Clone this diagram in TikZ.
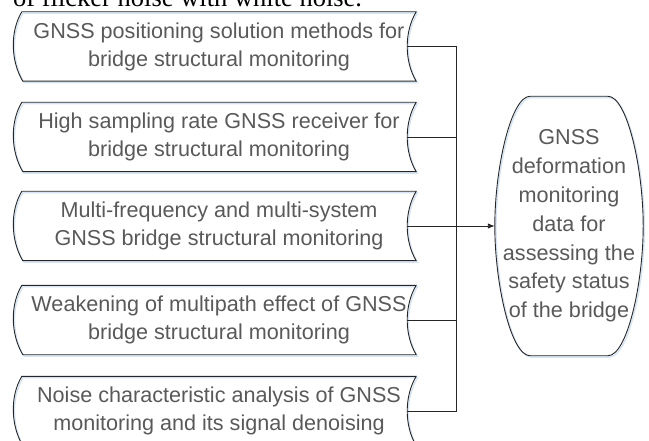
\documentclass[tikz,border=0pt]{standalone}
\usepackage{fontspec}
\setmainfont{Liberation Sans}
\newfontfamily\bodyserif{Liberation Serif}
\usetikzlibrary{arrows.meta}
\definecolor{labelgray}{RGB}{89,89,89}
\definecolor{glow}{RGB}{214,228,244}
\tikzset{
  topic/.style={minimum width=394bp, minimum height=69bp, inner sep=0pt, align=center,
    text=labelgray, font=\fontsize{21.6bp}{28bp}\selectfont},
  goal/.style={minimum width=148bp, minimum height=259bp, inner sep=0pt, align=center,
    text=labelgray, font=\fontsize{21.6bp}{28.8bp}\selectfont},
  outline/.style={draw=black!85, line width=0.9bp},
  halo/.style={draw=glow, line width=1.4bp, transform canvas={shift={(1.2bp,-1.4bp)}}},
  link/.style={draw=black!85, line width=0.9bp},
}
\begin{document}
\begin{tikzpicture}[x=1bp, y=-1bp]
\useasboundingbox (0,0) rectangle (649,441);
\clip (0,0) rectangle (649,441);

% trailing line of the preceding paragraph
\node[anchor=base west, inner sep=0pt, font=\bodyserif\fontsize{26.5bp}{30bp}\selectfont] (lead) at (13,6.5) {of flicker noise with white noise.};

% research topics
\node[topic] (b1) at (219,46.5) {GNSS positioning solution methods for\\bridge structural monitoring};
\node[topic] (b2) at (219,137) {High sampling rate GNSS receiver for\\bridge structural monitoring};
\node[topic] (b3) at (219,226) {Multi-frequency and multi-system\\GNSS bridge structural monitoring};
\node[topic] (b4) at (219,320) {Weakening of multipath effect of GNSS\\bridge structural monitoring};
\node[topic] (b5) at (219,411) {Noise characteristic analysis of GNSS\\monitoring and its signal denoising};

% stored-data outlines round the topics
\foreach \n in {b1,b2,b3,b4,b5}{
  \foreach \s in {halo,outline}{
    \draw[\s] (\n.north west) -- (\n.north east)
      .. controls ([xshift=-12bp,yshift=-20bp]\n.north east) and ([xshift=-12bp,yshift=20bp]\n.south east) .. (\n.south east)
      -- ([xshift=1bp]\n.south west)
      .. controls ([xshift=-11bp,yshift=20bp]\n.south west) and ([xshift=-12bp,yshift=-20bp]\n.north west) .. cycle;
  }
  \coordinate (\n r) at ([xshift=-9bp]\n.east);
}

% outcome
\node[goal] (t) at (569,226) {GNSS\\deformation\\monitoring\\data for\\assessing the\\safety status\\of the bridge};
\foreach \s in {halo,outline}{
  \draw[\s] ([xshift=-39bp]t.north) -- ([xshift=39bp]t.north)
    .. controls ([xshift=58bp]t.north) and ([yshift=58bp]t.east) .. (t.east)
    .. controls ([yshift=-58bp]t.east) and ([xshift=58bp]t.south) .. ([xshift=39bp]t.south)
    -- ([xshift=-39bp]t.south)
    .. controls ([xshift=-58bp]t.south) and ([yshift=-58bp]t.west) .. (t.west)
    .. controls ([yshift=58bp]t.west) and ([xshift=-58bp]t.north) .. cycle;
}

% collecting bus
\coordinate (bus) at (456,0);
\draw[link] (b1r) -- (b1r -| bus) -- (b5r -| bus) -- (b5r);
\draw[link] (b2r) -- (b2r -| bus);
\draw[link] (b4r) -- (b4r -| bus);
\draw[link, -{Latex[length=7bp,width=5.5bp]}] (b3r) -- (t.west);
\end{tikzpicture}
\end{document}
